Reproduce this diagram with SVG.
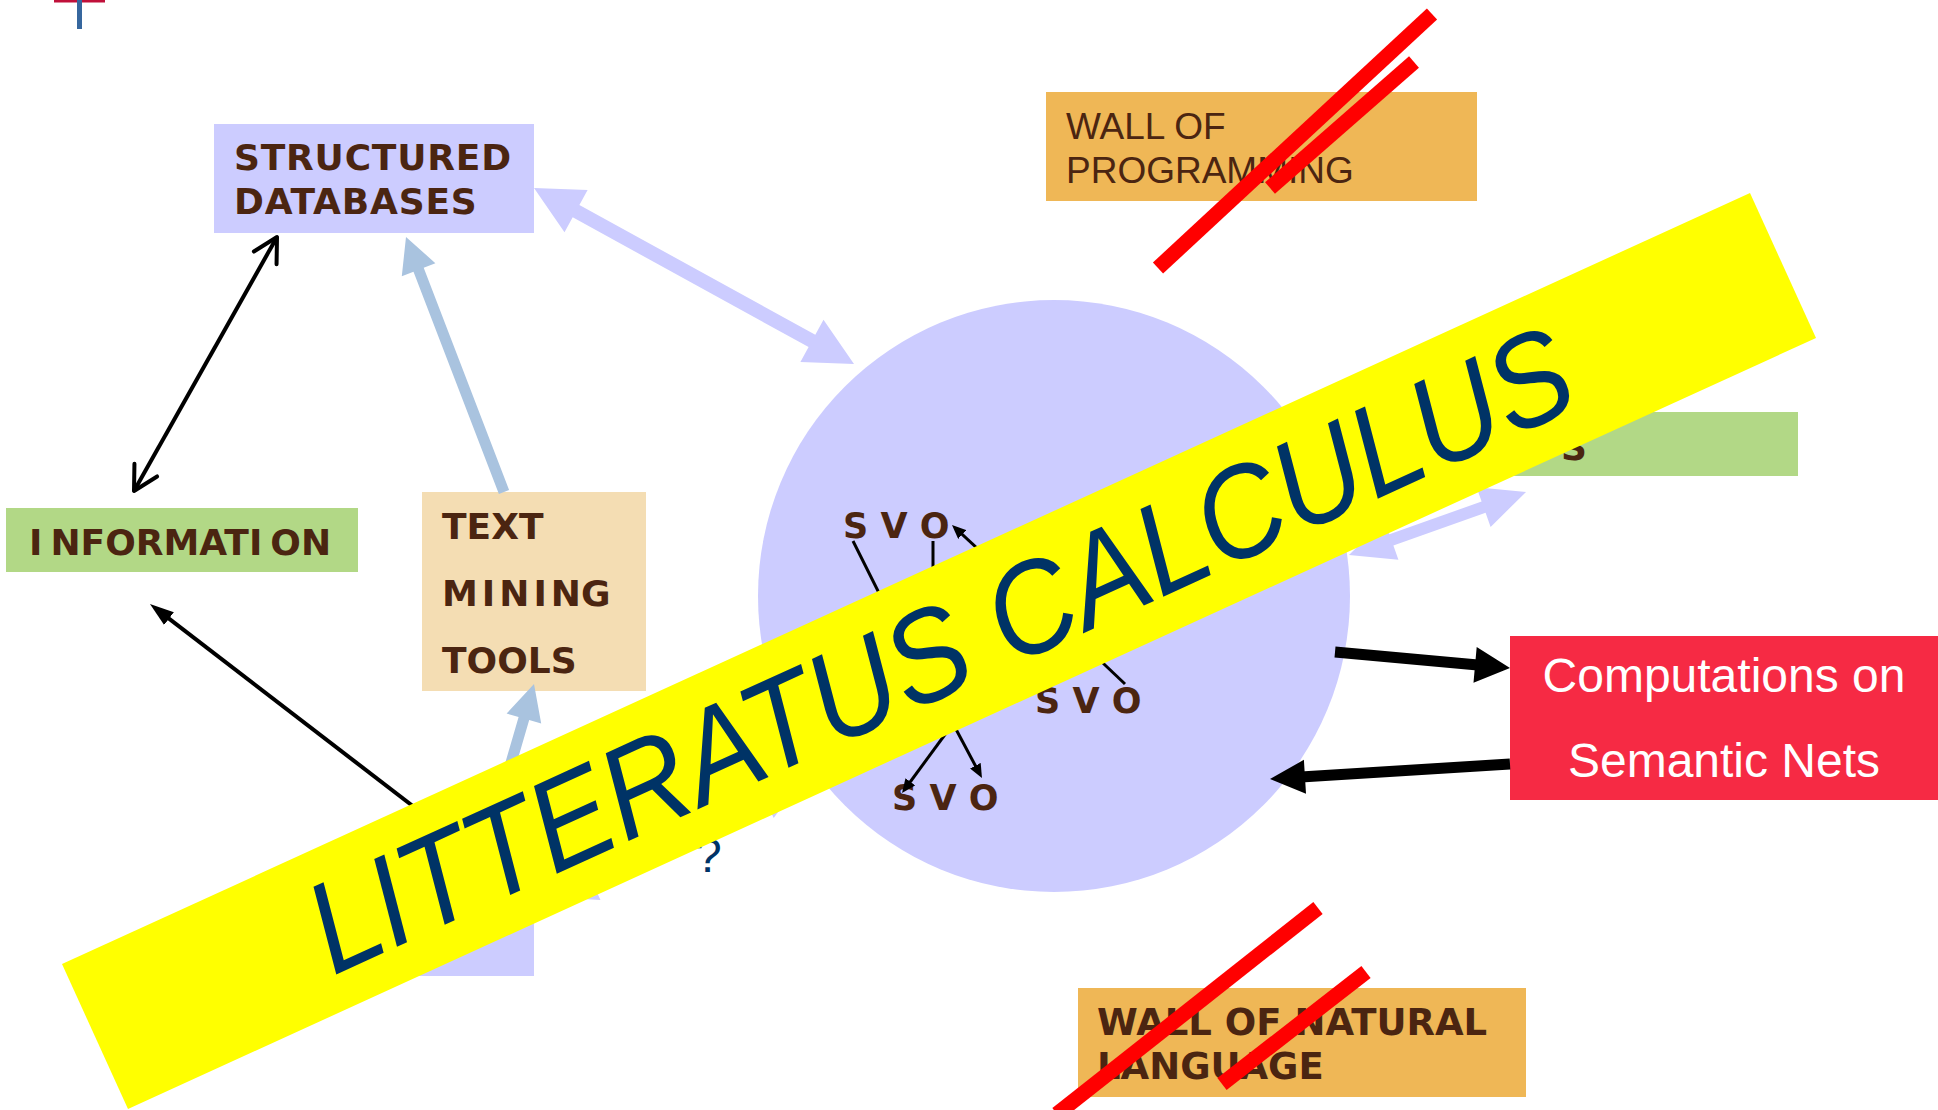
<svg xmlns="http://www.w3.org/2000/svg" width="1938" height="1110" viewBox="0 0 1938 1110">
<defs>
<style>
.lav{fill:#ccccff}
.lbl{font-family:"DejaVu Sans",Verdana,sans-serif;font-weight:bold;font-size:36px;fill:#4b2511}
.wall{font-family:"Liberation Sans",Arial,sans-serif;font-size:37px;fill:#4b2511}
.wallb{font-family:"DejaVu Sans",Verdana,sans-serif;font-weight:bold;font-size:37px;fill:#4b2511}
.svo{font-family:"DejaVu Sans",Verdana,sans-serif;font-weight:bold;font-size:35px;fill:#4b2511}
.ln{stroke:#000;fill:none}
.strike{stroke:#ff0000;stroke-width:15;stroke-linecap:butt;fill:none}
.lblue{fill:#a9c3df}
</style>
<marker id="vee" viewBox="-30 -16 34 32" refX="0" refY="0" markerWidth="34" markerHeight="32" markerUnits="userSpaceOnUse" orient="auto-start-reverse">
<path d="M-24,-13 L0,0 L-24,13" fill="none" stroke="#000" stroke-width="4" stroke-linecap="round" stroke-linejoin="round"/>
</marker>
<marker id="triL" viewBox="0 0 10 10" refX="6.67" refY="5" markerWidth="24" markerHeight="16" markerUnits="userSpaceOnUse" orient="auto" preserveAspectRatio="none">
<path d="M0,0 L10,5 L0,10 z" fill="#000"/>
</marker>
<marker id="triS" viewBox="0 0 10 10" refX="6.4" refY="5" markerWidth="14" markerHeight="12" markerUnits="userSpaceOnUse" orient="auto" preserveAspectRatio="none">
<path d="M0,0 L10,5 L0,10 z" fill="#000"/>
</marker>
</defs>
<rect width="1938" height="1110" fill="#ffffff"/>

<g id="corner-mark">
<rect x="54" y="0" width="51" height="2.5" fill="#c0103a"/>
<rect x="77" y="0" width="5" height="29" fill="#36679e"/>
</g>

<g id="node-circle">
<circle cx="1054" cy="596" r="296" class="lav"/>
</g>

<g id="node-structured-databases">
<rect x="214" y="124" width="320" height="109" class="lav"/>
<text class="lbl" x="234" y="170" letter-spacing="0.8">STRUCTURED</text>
<text class="lbl" x="234" y="214" letter-spacing="0.8">DATABASES</text>
</g>

<g id="node-information">
<rect x="6" y="508" width="352" height="64" fill="#b2d886"/>
<text class="lbl" x="29" y="555">I<tspan dx="8">NFORMATI</tspan><tspan dx="8">ON</tspan></text>
</g>

<g id="node-text-mining-tools">
<rect x="422" y="492" width="224" height="199" fill="#f4ddb3"/>
<text class="lbl" x="442" y="539">TEXT</text>
<text class="lbl" x="442" y="606">M<tspan dx="4">I</tspan><tspan dx="4">N</tspan><tspan dx="4">I</tspan><tspan dx="4">NG</tspan></text>
<text class="lbl" x="442" y="673">TOOLS</text>
</g>

<g id="node-lower-box">
<rect x="300" y="880" width="234" height="96" class="lav"/>
</g>

<g id="node-wall-programming">
<rect x="1046" y="92" width="431" height="109" fill="#efb756"/>
<text class="wall" x="1066" y="139">WALL OF</text>
<text class="wall" x="1066" y="183">PROGRAMMING</text>
</g>

<g id="node-wall-natural-language">
<rect x="1078" y="988" width="448" height="109" fill="#efb756"/>
<text class="wallb" x="1097" y="1035">WALL OF NATURAL</text>
<text class="wallb" x="1097" y="1079">LANGUAGE</text>
</g>

<g id="node-green-right">
<rect x="1446" y="412" width="352" height="64" fill="#b2d886"/>
<text class="lbl" x="1561" y="460">S</text>
</g>

<g id="node-computations">
<rect x="1510" y="636" width="428" height="164" fill="#f62a44"/>
<text x="1724" y="692" text-anchor="middle" font-family="'Liberation Sans',Arial,sans-serif" font-size="48" fill="#ffffff">Computations on</text>
<text x="1724" y="777" text-anchor="middle" font-family="'Liberation Sans',Arial,sans-serif" font-size="48" fill="#ffffff">Semantic Nets</text>
</g>

<g id="svo-nodes">
<text class="svo" x="843" y="538" xml:space="preserve">S V O</text>
<text class="svo" x="1035" y="713" xml:space="preserve">S V O</text>
<text class="svo" x="892" y="810" xml:space="preserve">S V O</text>
</g>

<g id="question">
<text x="695" y="872" font-family="'Liberation Sans',Arial,sans-serif" font-size="48" fill="#003366">?</text>
</g>

<g id="connectors">
<polygon class="lav" points="534,188 564.5,232.2 572.7,217.3 808.6,347.0 800.4,361.9 854,364 823.5,319.8 815.3,334.7 579.4,205.0 587.6,190.1"/>
<polygon class="lav" points="1349,555 1398.4,559.7 1393.4,545.6 1485.6,512.8 1490.6,526.9 1526,492 1476.6,487.3 1481.6,501.5 1389.4,534.3 1384.4,520.1"/>
<polygon class="lav" points="546,897 600.5,900.0 592.4,882.8 765.6,800.8 773.7,818.0 806,774 751.5,771.0 759.6,788.2 586.4,870.2 578.3,853.0"/>
<polygon class="lblue" points="509.1,490.0 423.7,267.7 435.4,263.2 406,237 401.8,276.2 413.5,271.7 498.9,494.0"/>
<polygon class="lblue" points="497.3,829.5 529.2,720.1 541.2,723.6 534,684 506.6,713.6 518.6,717.1 486.7,826.5"/>
<polygon fill="#000" points="1334.5,657.5 1474.6,670.3 1473.5,682.7 1510,668 1476.7,646.9 1475.6,659.3 1335.5,646.5"/>
<polygon fill="#000" points="1510.3,769.5 1305.3,782.3 1306.0,793.8 1270,779 1303.9,759.8 1304.6,771.3 1509.7,758.5"/>
<line class="ln" stroke-width="4" x1="134" y1="491" x2="277" y2="237" marker-start="url(#vee)" marker-end="url(#vee)"/>
<line class="ln" stroke-width="4" x1="470" y1="850" x2="156.3" y2="608.9" marker-end="url(#triL)"/>
<line class="ln" stroke-width="3" x1="853" y1="541" x2="890" y2="615"/>
<line class="ln" stroke-width="3" x1="933" y1="541" x2="933" y2="585"/>
<line class="ln" stroke-width="3" x1="992" y1="562" x2="955.7" y2="528.4" marker-end="url(#triS)"/>
<line class="ln" stroke-width="3" x1="1125" y1="684" x2="1085" y2="646"/>
<line class="ln" stroke-width="3" x1="952" y1="725" x2="905" y2="789" marker-end="url(#triS)"/>
<line class="ln" stroke-width="3" x1="950" y1="718" x2="979.6" y2="773.6" marker-end="url(#triS)"/>
</g>

<g id="strike-lines">
<line class="strike" x1="1158" y1="268" x2="1432" y2="14"/>
<line class="strike" x1="1270" y1="188" x2="1414" y2="62"/>
<line class="strike" x1="1318" y1="908" x2="1057" y2="1114"/>
<line class="strike" x1="1366" y1="972" x2="1222" y2="1084"/>
</g>

<g id="banner">
<polygon points="62,964 1750,193 1816,338 128,1109" fill="#ffff00"/>
<text transform="translate(333,976) rotate(-24.55) scale(1,1.1)" font-family="'Liberation Sans',Arial,sans-serif" font-style="italic" font-size="118" fill="#003366">LITTERATUS CALCULUS</text>
</g>
</svg>
